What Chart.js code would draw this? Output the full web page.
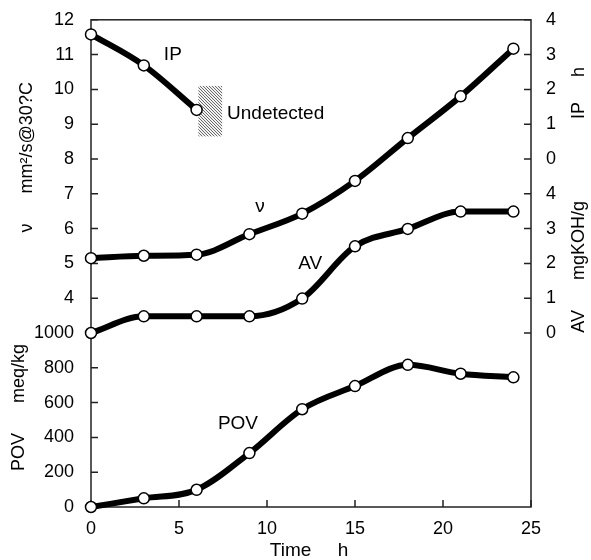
<!DOCTYPE html>
<html>
<head>
<meta charset="utf-8">
<script src="https://cdn.jsdelivr.net/npm/chart.js@4.4.0/dist/chart.umd.min.js"></script>
<style>
body { margin: 0; background: #fff; }
#wrap { width: 591px; height: 560px; }
</style>
</head>
<body>
<div id="wrap"><canvas id="myChart"></canvas></div>
<script>
// time axis, hours
const hours = [0, 3, 6, 9, 12, 15, 18, 21, 24];
const ipHours = [0, 3, 6];
const ipValues = [3.58, 2.69, 1.41];                                     // IP, h
const viscosity = [5.15, 5.22, 5.25, 5.84, 6.43, 7.37, 8.6, 9.8, 11.17];   // mm2/s
const acidValue = [0, 0.48, 0.48, 0.48, 0.99, 2.49, 2.99, 3.49, 3.49];     // mgKOH/g
const peroxideValue = [0, 50, 99, 310, 562, 695, 817, 766, 745];          // meq/kg
const undetectedTime = [6.1, 7.45];
const undetectedIP = [0.65, 2.1];

// all four quantities share one stacked scale (0..14 "rows")
const povRow = v => v / 200;   // 0..1000 -> 0..5
const avRow = v => v + 5;      // 0..4    -> 5..9
const nuRow = v => v + 2;      // 4..12   -> 6..14
const ipRow = v => v + 10;     // 0..4    -> 10..14

const FONT = "'Liberation Sans', Arial, sans-serif";

function series(xs, ys, map) {
	return {
		data: xs.map((x, i) => ({ x: x, y: map(ys[i]) })),
		borderColor: '#000',
		borderWidth: 6,
		pointRadius: 5.5,
		pointBackgroundColor: '#fff',
		pointBorderColor: '#000',
		pointBorderWidth: 1.5,
		cubicInterpolationMode: 'monotone',
		clip: false
	};
}

function hatch(ctx) {
	const c = document.createElement('canvas');
	c.width = 3; c.height = 3;
	const g = c.getContext('2d');
	g.fillStyle = '#f2f2f2';
	g.fillRect(0, 0, 3, 3);
	g.fillStyle = '#6a6a6a';
	for (let i = 0; i < 3; i++) g.fillRect(i, i, 1, 1);
	return ctx.createPattern(c, 'repeat');
}

const notes = [
	{ text: 'IP', x: 4.65, y: 13.0, align: 'center' },
	{ text: 'Undetected', x: 7.73, y: 11.31, align: 'left' },
	{ text: 'ν', x: 9.6, y: 8.63, align: 'center' },
	{ text: 'AV', x: 12.45, y: 7.0, align: 'center' },
	{ text: 'POV', x: 8.35, y: 2.4, align: 'center' }
];
const sideTitles = [
	{ text: 'ν      mm²/s@30?C', side: 'left', px: 27, y: 10.05 },
	{ text: 'POV      meq/kg', side: 'left', px: 19, y: 2.86 },
	{ text: 'IP     h', side: 'right', px: 579, y: 11.9 },
	{ text: 'AV      mgKOH/g', side: 'right', px: 579, y: 6.9 }
];

const decor = {
	id: 'decor',
	beforeDatasetsDraw(chart) {
		const ctx = chart.ctx;
		const a = chart.chartArea;
		const xs = chart.scales.x, ys = chart.scales.y;
		// hatched "undetected" box
		const x0 = xs.getPixelForValue(undetectedTime[0]), x1 = xs.getPixelForValue(undetectedTime[1]);
		const y0 = ys.getPixelForValue(ipRow(undetectedIP[1])), y1 = ys.getPixelForValue(ipRow(undetectedIP[0]));
		ctx.save();
		ctx.fillStyle = hatch(ctx);
		ctx.fillRect(x0, y0, x1 - x0, y1 - y0);
		// frame
		ctx.strokeStyle = '#222';
		ctx.lineWidth = 1.5;
		ctx.strokeRect(a.left, a.top, a.right - a.left, a.bottom - a.top);
		// inward ticks
		ctx.beginPath();
		for (let v = 0; v <= 14; v++) {
			const py = ys.getPixelForValue(v);
			ctx.moveTo(a.left, py); ctx.lineTo(a.left + 7, py);
			if (v >= 5) { ctx.moveTo(a.right, py); ctx.lineTo(a.right - 7, py); }
		}
		for (let h = 0; h <= 25; h += 5) {
			const px = xs.getPixelForValue(h);
			ctx.moveTo(px, a.bottom); ctx.lineTo(px, a.bottom - 7);
		}
		ctx.stroke();
		ctx.restore();
	},
	afterDraw(chart) {
		const ctx = chart.ctx;
		const a = chart.chartArea;
		const xs = chart.scales.x, ys = chart.scales.y;
		ctx.save();
		ctx.fillStyle = '#000';
		ctx.textBaseline = 'middle';
		ctx.font = '19px ' + FONT;
		notes.forEach(n => {
			ctx.textAlign = n.align;
			ctx.fillText(n.text, xs.getPixelForValue(n.x), ys.getPixelForValue(n.y));
		});
		ctx.textAlign = 'center';
		ctx.fillText('Time     h', (a.left + a.right) / 2 - 2, 551);
		ctx.font = '18px ' + FONT;
		sideTitles.forEach(t => {
			ctx.save();
			ctx.translate(t.px, ys.getPixelForValue(t.y));
			ctx.rotate(-Math.PI / 2);
			ctx.fillText(t.text, 0, 0);
			ctx.restore();
		});
		ctx.restore();
	}
};

new Chart(document.getElementById('myChart').getContext('2d'), {
	type: 'line',
	data: {
		datasets: [
			series(ipHours, ipValues, ipRow),
			series(hours, viscosity, nuRow),
			series(hours, acidValue, avRow),
			series(hours, peroxideValue, povRow)
		]
	},
	options: {
		responsive: true,
		maintainAspectRatio: false,
		animation: false,
		layout: { padding: { top: 17 } },
		plugins: { legend: { display: false }, tooltip: { enabled: false } },
		scales: {
			x: {
				type: 'linear', min: 0, max: 25,
				grid: { display: false }, border: { display: false },
				ticks: { stepSize: 5, color: '#000', padding: 3, font: { family: FONT, size: 18 } },
				afterFit: s => { s.height = 53; }
			},
			y: {
				position: 'left', min: 0, max: 14,
				grid: { display: false }, border: { display: false },
				ticks: {
					stepSize: 1, color: '#000', padding: 9, font: { family: FONT, size: 18 },
					callback: v => v <= 5 ? v * 200 : v - 2
				},
				afterFit: s => { s.width = 91; }
			},
			y2: {
				position: 'right', min: 0, max: 14,
				grid: { display: false }, border: { display: false },
				ticks: {
					stepSize: 1, color: '#000', padding: 7, font: { family: FONT, size: 18 },
					callback: v => v < 5 ? '' : (v < 10 ? v - 5 : v - 10)
				},
				afterFit: s => { s.width = 60; }
			}
		}
	},
	plugins: [decor]
});
</script>
</body>
</html>
